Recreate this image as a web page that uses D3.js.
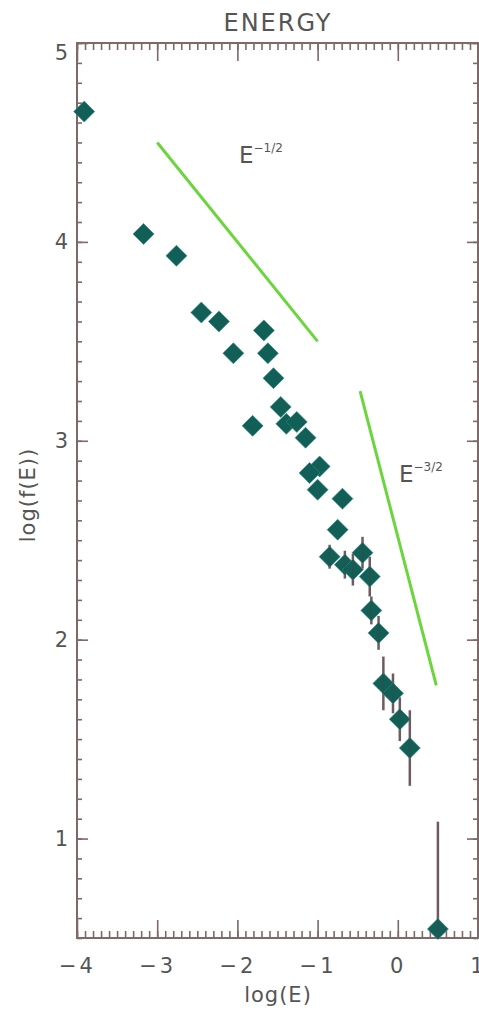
<!DOCTYPE html>
<html>
<head>
<meta charset="utf-8">
<script src="https://cdn.jsdelivr.net/npm/d3@7"></script>
<style>
  body { margin: 0; background: #fff; }
  text { font-family: 'DejaVu Sans', sans-serif; fill: #555; }
</style>
</head>
<body>
<script>
// data
const logE = [-3.91, -3.17, -2.76, -2.45, -2.23, -2.05, -1.67, -1.62, -1.55, -1.81, -1.46,
  -1.39, -1.26, -1.15, -0.975, -1.1, -1.0, -0.69, -0.75, -0.85, -0.66, -0.56, -0.44, -0.35,
  -0.33, -0.24, -0.18, -0.06, 0.025, 0.15, 0.50];
const logF = [4.655, 4.04, 3.93, 3.645, 3.60, 3.44, 3.555, 3.44, 3.315, 3.075, 3.17,
  3.085, 3.095, 3.015, 2.871, 2.838, 2.754, 2.709, 2.553, 2.417, 2.377, 2.352, 2.437, 2.317,
  2.147, 2.034, 1.78, 1.73, 1.60, 1.455, 0.545];
const errF = [0, 0, 0, 0, 0, 0, 0, 0, 0, 0, 0,
  0, 0, 0, 0, 0, 0, 0, 0, 0.06, 0.07, 0.08, 0.08, 0.1,
  0.07, 0.085, 0.135, 0.1, 0.11, 0.19, 0.54];

const line1X = [-3, -1], line1Y = [4.5, 3.5];
const line2X = [-0.47, 0.48], line2Y = [3.25, 1.77];

const xTicks = [-4, -3, -2, -1, 0, 1];
const yTicks = [1, 2, 3, 4, 5];

const W = 479, H = 1011;
const svg = d3.select('body').append('svg')
  .attr('width', W).attr('height', H);

const x = d3.scaleLinear().domain([-4, 1]).range([77, 478]);
const y = d3.scaleLinear().domain([0.5, 5]).range([938, 43]);

const axisCol = '#7f6868';

svg.append('defs').append('clipPath').attr('id', 'clip')
  .append('rect').attr('x', 77).attr('y', 43).attr('width', 401).attr('height', 895);

// minor ticks
const xMinor = d3.range(-40, 11).map(i => i / 10);
const yMinor = d3.range(5, 51).map(i => i / 10);

function styleAxis(g) {
  g.select('.domain').remove();
  g.selectAll('line').attr('stroke', axisCol).attr('stroke-width', 1.6);
}

svg.append('g').attr('transform', 'translate(0,938)')
  .call(d3.axisBottom(x).tickValues(xMinor).tickSizeInner(-7).tickFormat(''))
  .call(styleAxis);
svg.append('g').attr('transform', 'translate(0,43)')
  .call(d3.axisTop(x).tickValues(xMinor).tickSizeInner(-7).tickFormat(''))
  .call(styleAxis);
svg.append('g').attr('transform', 'translate(77,0)')
  .call(d3.axisLeft(y).tickValues(yMinor).tickSizeInner(-5).tickFormat(''))
  .call(styleAxis);
svg.append('g').attr('transform', 'translate(478,0)')
  .call(d3.axisRight(y).tickValues(yMinor).tickSizeInner(-5).tickFormat(''))
  .call(styleAxis);

// major ticks
const fmt = d => d < 0 ? '\u2212' + Math.abs(d) : '' + d;
const xb = svg.append('g').attr('transform', 'translate(0,938)')
  .call(d3.axisBottom(x).tickValues(xTicks).tickSizeInner(-18).tickPadding(20).tickFormat(fmt))
  .call(styleAxis);
xb.selectAll('text').style('font-size', '21px').attr('fill', '#555').style('letter-spacing', '3px');
svg.append('g').attr('transform', 'translate(0,43)')
  .call(d3.axisTop(x).tickValues(xTicks).tickSizeInner(-18).tickFormat(''))
  .call(styleAxis);
const yl = svg.append('g').attr('transform', 'translate(77,0)')
  .call(d3.axisLeft(y).tickValues(yTicks).tickSizeInner(-11).tickPadding(9).tickFormat(d3.format('d')))
  .call(styleAxis);
yl.selectAll('text').style('font-size', '21px').attr('fill', '#555');
yl.selectAll('.tick').filter(d => d === 5).select('text').attr('dy', '0.8em');
svg.append('g').attr('transform', 'translate(478,0)')
  .call(d3.axisRight(y).tickValues(yTicks).tickSizeInner(-11).tickFormat(''))
  .call(styleAxis);

// frame
svg.append('rect')
  .attr('x', x(-4)).attr('y', y(5))
  .attr('width', x(1) - x(-4)).attr('height', y(0.5) - y(5))
  .attr('fill', 'none').attr('stroke', axisCol).attr('stroke-width', 2);

// power law lines
const line = d3.line().x(d => x(d[0])).y(d => y(d[1]));
[[line1X, line1Y], [line2X, line2Y]].forEach(([lx, ly]) => {
  svg.append('path')
    .attr('d', line(lx.map((v, i) => [v, ly[i]])))
    .attr('stroke', '#6ad63c').attr('stroke-width', 3).attr('fill', 'none');
});

// points
const pts = logE.map((v, i) => ({ e: v, f: logF[i], err: errF[i] }));
const plot = svg.append('g').attr('clip-path', 'url(#clip)');

plot.selectAll('.err').data(pts.filter(d => d.err > 0))
  .enter().append('line')
  .attr('x1', d => x(d.e)).attr('x2', d => x(d.e))
  .attr('y1', d => y(d.f + d.err)).attr('y2', d => y(d.f - d.err))
  .attr('stroke', '#6f5a62').attr('stroke-width', 2.5);

svg.selectAll('.pt').data(pts)
  .enter().append('path')
  .attr('d', 'M0,-10.5L10.5,0L0,10.5L-10.5,0Z')
  .attr('transform', d => `translate(${x(d.e)},${y(d.f)})`)
  .attr('fill', '#115f57')
  .attr('stroke', '#2f8f86').attr('stroke-width', 0.6);

// error bars drawn over markers too (visible lines through diamonds)
svg.append('g').attr('clip-path', 'url(#clip)')
  .selectAll('line').data(pts.filter(d => d.err > 0.05))
  .enter().append('line')
  .attr('x1', d => x(d.e)).attr('x2', d => x(d.e))
  .attr('y1', d => y(d.f + Math.min(d.err, 0.05))).attr('y2', d => y(d.f - Math.min(d.err, 0.05)))
  .attr('stroke', '#3a4a48').attr('stroke-width', 1.5).attr('opacity', 0.6);

// labels
svg.append('text').attr('x', 278).attr('y', 31)
  .attr('text-anchor', 'middle').style('font-size', '24px').style('letter-spacing', '2px')
  .text('ENERGY');

svg.append('text').attr('x', 278).attr('y', 995)
  .attr('text-anchor', 'middle').attr('dy', '0.35em').style('font-size', '21px')
  .style('letter-spacing', '1px')
  .text('log(E)');

svg.append('text')
  .attr('transform', 'translate(28,495) rotate(-90)')
  .attr('text-anchor', 'middle').attr('dy', '0.35em').style('font-size', '21px')
  .style('letter-spacing', '1px')
  .text('log(f(E))');

function powLabel(px, py, sup) {
  const t = svg.append('text').attr('x', px).attr('y', py).style('font-size', '23px');
  t.append('tspan').text('E');
  t.append('tspan').attr('dy', -11).style('font-size', '12px').text(sup);
}
powLabel(239, 163, '\u22121/2');
powLabel(399, 482, '\u22123/2');
</script>
</body>
</html>
